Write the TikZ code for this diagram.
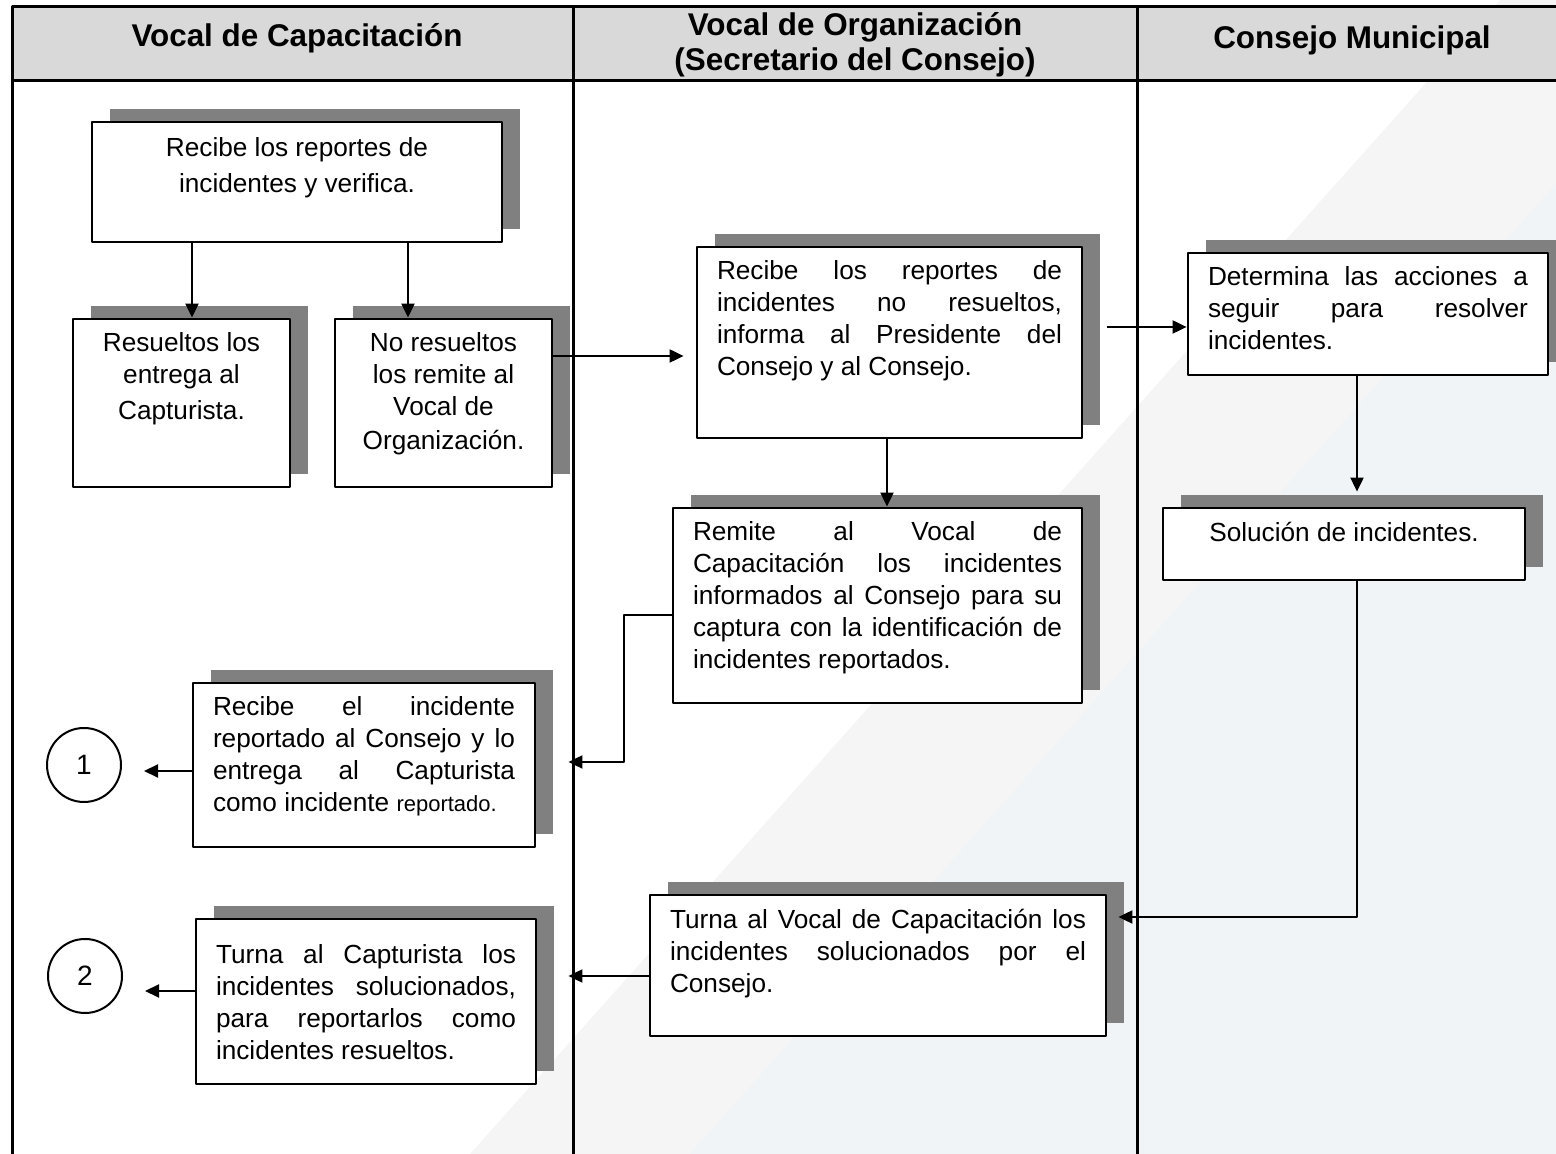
\documentclass[tikz,border=0pt]{standalone}
\usepackage{fontspec}
\setmainfont{Liberation Sans}
\usetikzlibrary{arrows.meta,shadows}
\definecolor{cabecera}{HTML}{D9D9D9}
\definecolor{sombra}{HTML}{808080}
\definecolor{marcagris}{HTML}{F5F5F5}
\definecolor{marcaazul}{HTML}{F0F4F6}
\newcommand{\txtj}[3]{\parbox[c][#2][t]{#1}{#3}}
\newcommand{\txtc}[3]{\parbox[c][#2][t]{#1}{\centering #3}}
\tolerance=9999 \hbadness=10000 \hyphenpenalty=10000
\begin{document}
\begin{tikzpicture}[>={Triangle[length=7bp,width=6.5bp]},line join=bevel,
  titulo/.style={align=center,font=\fontsize{15.7bp}{17.5bp}\selectfont\bfseries},
  paso/.style={draw,line width=1.4bp,fill=white,inner xsep=10bp,inner ysep=7bp,
    font=\fontsize{13.1bp}{16bp}\selectfont,
    drop shadow={shadow xshift=9bp,shadow yshift=6.5bp,opacity=1,fill=sombra}},
  conector/.style={circle,draw,line width=1bp,fill=white,minimum size=37bp,inner sep=0pt,
    font=\fontsize{14bp}{16bp}\selectfont},
  flecha/.style={black,line width=1bp,->},
  marco/.style={line width=1.5bp}]
\useasboundingbox (0bp,0bp) rectangle (778bp,577bp);
%%
\fill [marcagris] (235bp,0bp) -- (750bp,577bp) -- (778bp,577bp) -- (778bp,0bp) -- cycle;
\fill [marcaazul] (345bp,0bp) -- (778bp,485bp) -- (778bp,0bp) -- cycle;
\fill [cabecera] (6bp,573.75bp) rectangle (778bp,536.75bp);
\draw [marco] (778bp,573.75bp) -- (6bp,573.75bp) -- (6bp,0bp);
\draw [marco] (6bp,536.75bp) -- (778bp,536.75bp);
\draw [marco] (286.75bp,573.75bp) -- (286.75bp,0bp);
\draw [marco] (568.5bp,573.75bp) -- (568.5bp,0bp);
%%
\node (capacitacion) at (148.5bp,558bp) [titulo] {Vocal de Capacitación};
  \node (organizacion) at (427.5bp,554.5bp) [titulo] {Vocal de Organización\\(Secretario del Consejo)};
  \node (consejo) at (676bp,557bp) [titulo] {Consejo Municipal};
%%
\node (recibe) at (148.5bp,486bp) [paso] {\txtc{185bp}{46bp}{\vspace*{1bp}Recibe los reportes de\\[2bp] incidentes y verifica.}};
  \node (resueltos) at (90.75bp,375.5bp) [paso] {\txtc{88.5bp}{70bp}{Resueltos los\\ entrega al\\[2bp] Capturista.}};
  \node (noresueltos) at (221.75bp,375.5bp) [paso] {\txtc{88.5bp}{70bp}{No resueltos\\ los remite al\\ Vocal de\\[1bp] Organización.}};
  \node (reportes) at (444.75bp,405.75bp) [paso] {\txtj{172.5bp}{81.5bp}{Recibe los reportes de\linebreak incidentes no resueltos,\linebreak informa al Presidente del\linebreak Consejo y al Consejo.}};
  \node (determina) at (684bp,420bp) [paso] {\txtj{160bp}{47bp}{Determina las acciones a\linebreak seguir para resolver\linebreak incidentes.}};
  \node (solucion) at (672bp,305bp) [paso] {\txtc{161bp}{22bp}{Solución de incidentes.}};
  \node (remite) at (438.75bp,274.25bp) [paso] {\txtj{184.5bp}{83.5bp}{Remite al Vocal de\linebreak Capacitación los incidentes\linebreak informados al Consejo para su\linebreak captura con la identificación de\linebreak incidentes reportados.}};
  \node (recibeinc) at (182bp,194.5bp) [paso] {\txtj{151bp}{68bp}{Recibe el incidente\linebreak reportado al Consejo y lo\linebreak entrega al Capturista\linebreak como incidente {\fontsize{11bp}{16bp}\selectfont reportado.}}};
  \node (turnavocal) at (439bp,94.25bp) [paso] {\txtj{208bp}{56.5bp}{Turna al Vocal de Capacitación los\linebreak incidentes solucionados por el\linebreak Consejo.}};
  \node (turnacapt) at (183bp,76.25bp) [paso] {\txtj{150bp}{68.5bp}{\vspace*{6bp}Turna al Capturista los\linebreak incidentes solucionados,\linebreak para reportarlos como\linebreak incidentes resueltos.}};
  \node (uno) at (42bp,194.5bp) [conector] {1};
  \node (dos) at (42.5bp,89bp) [conector] {2};
%%
  \draw [flecha] (96bp,0bp |- recibe.south) -- (96bp,0bp |- resueltos.north);
  \draw [flecha] (204bp,0bp |- recibe.south) -- (204bp,0bp |- noresueltos.north);
  \draw [flecha,shorten >=6bp] (noresueltos.east |- 0bp,399bp) -- (reportes.west |- 0bp,399bp);
  \draw [flecha,shorten <=12bp] (reportes.east |- 0bp,413.5bp) -- (determina.west |- 0bp,413.5bp);
  \draw [flecha,shorten >=7.5bp] (678.5bp,0bp |- determina.south) -- (678.5bp,0bp |- solucion.north);
  \draw [flecha] (443.5bp,0bp |- reportes.south) -- (443.5bp,0bp |- remite.north);
  \draw [flecha,shorten >=16bp] (remite.west |- 0bp,269.5bp) -| (312bp,196bp) -- (recibeinc.east |- 0bp,196bp);
  \draw [flecha,shorten >=11bp] (recibeinc.west |- 0bp,191.5bp) -- (uno.east |- 0bp,191.5bp);
  \draw [flecha,shorten >=5.5bp] (678.5bp,0bp |- solucion.south) |- (turnavocal.east |- 0bp,118.5bp);
  \draw [flecha,shorten >=15.5bp] (turnavocal.west |- 0bp,89bp) -- (turnacapt.east |- 0bp,89bp);
  \draw [flecha,shorten >=11bp] (turnacapt.west |- 0bp,81.5bp) -- (dos.east |- 0bp,81.5bp);
%
\end{tikzpicture}
\end{document}
